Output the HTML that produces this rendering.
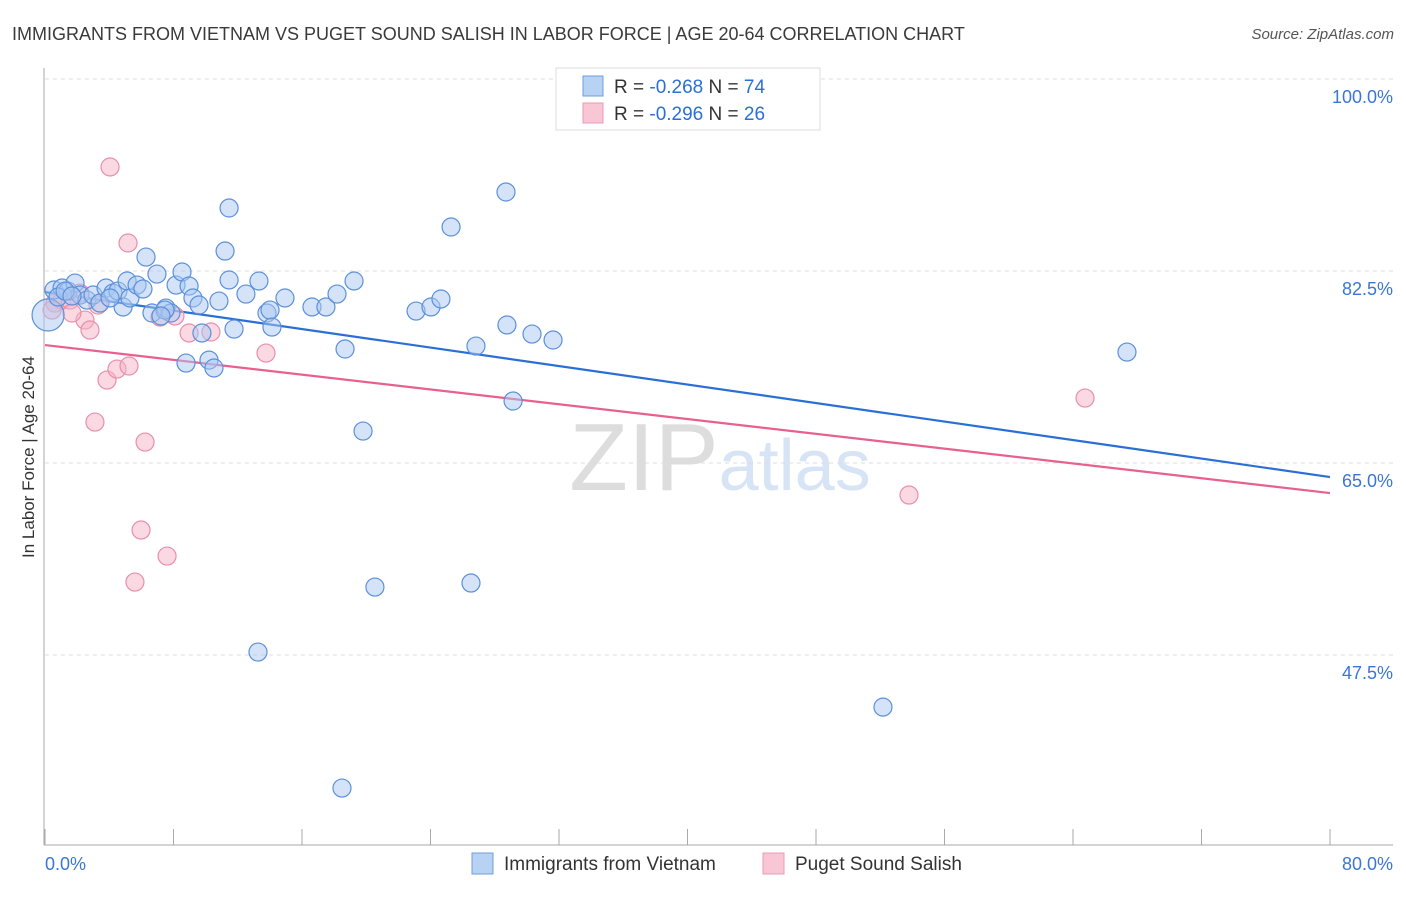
<!DOCTYPE html>
<html><head><meta charset="utf-8"><style>
body{margin:0;background:#fff;font-family:"Liberation Sans",sans-serif;}
svg text{font-family:"Liberation Sans",sans-serif;}
</style></head><body>
<svg id="chart" width="1406" height="892" xmlns="http://www.w3.org/2000/svg">
<text x="12" y="40" font-size="18" fill="#3a3a3a">IMMIGRANTS FROM VIETNAM VS PUGET SOUND SALISH IN LABOR FORCE | AGE 20-64 CORRELATION CHART</text>
<text x="1394" y="39" font-size="15" fill="#555" text-anchor="end" font-style="italic">Source: ZipAtlas.com</text>
<text transform="translate(34,457) rotate(-90)" font-size="17" fill="#333" text-anchor="middle">In Labor Force | Age 20-64</text>
<text x="720" y="490" font-size="96" text-anchor="middle" fill="#ddd" font-family="Liberation Serif,serif">ZIP<tspan fill="#d6e4f5" font-family="Liberation Sans,sans-serif" font-size="72">atlas</tspan></text>
<g id="grid"></g>
<g id="axes"></g>
<g id="lines"></g>
<g id="pts"></g>
<g>
<rect x="556" y="68" width="264" height="62" fill="#fff" stroke="#ddd"/>
<rect x="583" y="76" width="20" height="20" fill="#b8d2f4" stroke="#6c9ee0"/>
<text x="614" y="93" font-size="19" fill="#333">R = <tspan fill="#2a6fd6">-0.268</tspan>   N = <tspan fill="#2a6fd6">74</tspan></text>
<rect x="583" y="103" width="20" height="20" fill="#f9c6d6" stroke="#ea9ab4"/>
<text x="614" y="120" font-size="19" fill="#333">R = <tspan fill="#2a6fd6">-0.296</tspan>   N = <tspan fill="#2a6fd6">26</tspan></text>
</g>
<g>
<rect x="472" y="853" width="21" height="21" fill="#b8d2f4" stroke="#6c9ee0"/>
<text x="504" y="870" font-size="19" fill="#333">Immigrants from Vietnam</text>
<rect x="763" y="853" width="21" height="21" fill="#f9c6d6" stroke="#ea9ab4"/>
<text x="795" y="870" font-size="19" fill="#333">Puget Sound Salish</text>
</g>
</svg>
<script>
const blueX=[0.56,1.06,1.43,1.87,2.18,2.61,2.99,3.42,3.80,4.23,4.54,4.86,5.11,5.29,5.73,6.10,6.29,6.66,6.97,7.53,7.84,8.16,8.53,8.97,9.21,9.59,9.77,10.21,10.52,8.78,10.83,11.21,11.46,11.46,11.77,12.51,13.32,13.82,14.01,14.13,14.94,16.62,17.49,18.18,18.68,19.24,19.80,20.54,23.10,24.03,24.65,25.28,26.83,28.70,28.76,29.14,30.32,31.63,26.52,13.26,18.49,52.17,67.36,43.21,0.19,0.81,1.25,1.68,4.05,7.47,7.22];
const blueY=[80.77,80.95,80.67,81.40,80.31,79.85,80.31,79.58,80.95,80.49,80.67,79.22,81.59,80.04,81.22,80.86,83.77,78.67,82.22,79.12,78.67,81.22,82.41,81.13,80.04,79.40,76.85,74.38,73.66,74.11,79.76,84.32,88.24,81.68,77.21,80.40,81.59,78.67,78.94,77.39,80.04,79.22,79.22,80.40,75.39,81.59,67.91,53.69,78.85,79.22,79.95,86.51,75.66,89.70,77.58,70.65,76.75,76.21,54.06,47.77,35.37,42.75,75.11,99.91,78.49,80.13,80.67,80.22,80.04,78.94,78.40];
const pinkX=[4.05,5.17,0.62,1.06,1.56,2.18,2.49,2.80,1.68,3.11,3.86,4.48,5.23,6.23,5.98,7.60,5.60,7.16,8.09,8.97,10.33,13.76,53.79,64.75,0.44,3.30];
const pinkY=[91.98,85.05,79.58,79.85,79.85,80.49,78.03,77.12,78.67,68.73,72.56,73.56,73.84,66.91,58.89,56.52,54.15,78.30,78.40,76.85,76.94,75.02,62.08,70.92,78.94,79.40];
const blueTrend=[80.58,63.72];
const pinkTrend=[75.75,62.26];
const yTicks=[100,82.5,65,47.5];
const yTickLabels=["100.0%","82.5%","65.0%","47.5%"];
const xTicks=[0,8,16,24,32,40,48,56,64,72,80];
const NS="http://www.w3.org/2000/svg";
function X(v){return 45+v*(1330-45)/80;}
function Y(v){return 79+(100-v)*(655-79)/52.5;}
function mk(tag,attrs,parent){const e=document.createElementNS(NS,tag);for(const k in attrs)e.setAttribute(k,attrs[k]);document.getElementById(parent).appendChild(e);return e;}
yTicks.forEach((t,i)=>{
 const g=mk('line',{x1:45,x2:1393,y1:Y(t),y2:Y(t),stroke:'#ddd','stroke-dasharray':'4,4'},'grid');
 
 
 const l=mk('text',{x:1393,y:Y(t)+24,'font-size':18,fill:'#3a76d6','text-anchor':'end'},'grid');
 l.textContent=yTickLabels[i];
 
 
});
const ya=mk('line',{x1:44,x2:44,y1:68,y2:845,stroke:'#aaa'},'axes');


const xa=mk('line',{x1:44,x2:1393,y1:845,y2:845,stroke:'#aaa'},'axes');


xTicks.forEach(t=>{
 const tk=mk('line',{x1:X(t),x2:X(t),y1:829,y2:845,stroke:'#aaa'},'axes');
 
 
});
const x0=mk('text',{x:45,y:870,'font-size':18,fill:'#3a76d6'},'axes');x0.textContent='0.0%';


const x1=mk('text',{x:1393,y:870,'font-size':18,fill:'#3a76d6','text-anchor':'end'},'axes');x1.textContent='80.0%';


function pts(xs,ys,fill,stroke,name){xs.forEach((x,i)=>{
 const c=mk('circle',{cx:X(x),cy:Y(ys[i]),r:i==64&&name=='vietnam-point'?16:9,fill:fill,'fill-opacity':0.5,stroke:stroke,'stroke-width':1.2},'pts');
 
 
});}
pts(pinkX,pinkY,'#f5b3c8','#e98fab','salish-point');
pts(blueX,blueY,'#a9c8f1','#5b90da','vietnam-point');
const bl=mk('line',{x1:X(0),x2:X(80),y1:Y(blueTrend[0]),y2:Y(blueTrend[1]),stroke:'#2a6fd6','stroke-width':2.2},'lines');


const pl=mk('line',{x1:X(0),x2:X(80),y1:Y(pinkTrend[0]),y2:Y(pinkTrend[1]),stroke:'#e8608f','stroke-width':2.2},'lines');


</script>
</body></html>
